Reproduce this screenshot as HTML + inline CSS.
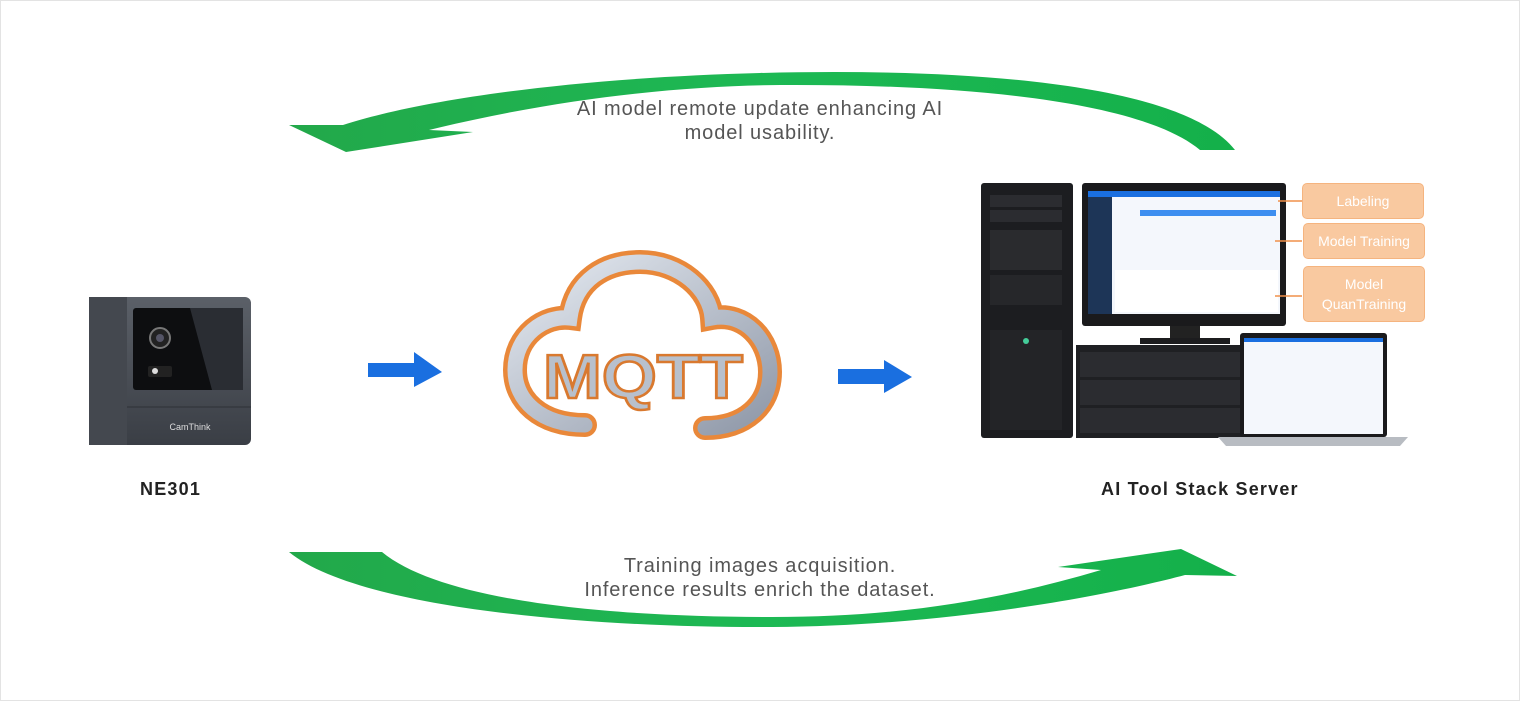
<!DOCTYPE html>
<html><head><meta charset="utf-8"><style>
html,body{margin:0;padding:0;background:#fff;}
body{width:1520px;height:701px;overflow:hidden;position:relative;font-family:"Liberation Sans",sans-serif;}
.frame{position:absolute;left:0;top:0;width:1518px;height:699px;border:1px solid #e3e3e3;}
.t{position:absolute;color:#555;font-size:20px;letter-spacing:0.9px;text-align:center;line-height:24px;}
.lab{position:absolute;color:#222;font-size:18px;font-weight:bold;letter-spacing:1.2px;}
.tag{position:absolute;background:#f9c9a0;border:1px solid #f5b47f;border-radius:5px;color:#fff;font-size:14px;text-align:center;display:flex;align-items:center;justify-content:center;line-height:20px;}
</style></head><body>
<div class="frame"></div>
<svg width="1520" height="701" style="position:absolute;left:0;top:0">
<defs>
<linearGradient id="g" x1="0" x2="1"><stop offset="0" stop-color="#22a84a"/><stop offset="0.5" stop-color="#1db954"/><stop offset="1" stop-color="#14b04a"/></linearGradient>
<linearGradient id="cam" x1="0" y1="0" x2="0" y2="1"><stop offset="0" stop-color="#5b6068"/><stop offset="1" stop-color="#3a3e45"/></linearGradient>
<linearGradient id="sil" x1="0" y1="0" x2="1" y2="1"><stop offset="0" stop-color="#e6ebf2"/><stop offset="1" stop-color="#8f98a8"/></linearGradient>
</defs>
<path d="M1235,150 C1180,80 950,68 760,73 C570,78 420,100 343,125 L289,125 L346,152 L473,132 L429,130 C560,98 680,86 780,85 C960,84 1140,100 1200,150 Z" fill="url(#g)"/>
<path d="M289,552 C360,610 600,628 772,627 C950,626 1110,595 1185,575 L1237,576 L1181,549 L1058,567 L1101,570 C1000,600 900,617 772,617 C600,617 440,600 382,552 Z" fill="url(#g)"/>
<path d="M368,363 L414,363 L414,352 L442,372 L414,387 L414,377 L368,377 Z" fill="#1a6fe0"/>
<path d="M838,369 L884,369 L884,360 L912,377 L884,393 L884,384 L838,384 Z" fill="#1a6fe0"/>
<rect x="89" y="297" width="162" height="148" rx="6" fill="url(#cam)"/>
<rect x="89" y="297" width="38" height="148" fill="#44484f"/>
<rect x="133" y="308" width="110" height="82" rx="3" fill="#0d0e10"/>
<path d="M190,308 L243,308 L243,390 L212,390 Z" fill="#2a2d33"/>
<circle cx="160" cy="338" r="10" fill="#222" stroke="#777" stroke-width="2"/>
<circle cx="160" cy="338" r="4" fill="#556"/>
<rect x="148" y="366" width="24" height="11" rx="2" fill="#222"/><circle cx="155" cy="371" r="3" fill="#ddd"/>
<line x1="127" y1="407" x2="251" y2="407" stroke="#2d3036"/>
<text x="190" y="430" font-size="9" fill="#ddd" text-anchor="middle" font-family="Liberation Sans">CamThink</text>
<g fill="none" stroke-linecap="round">
<path d="M585,425 C540,425 515,400 515,370 C515,335 545,315 570,318 C575,280 605,262 640,262 C680,262 710,290 712,318 C745,312 770,340 770,372 C770,405 745,428 705,428" stroke="#e9883a" stroke-width="24"/>
<path d="M585,425 C540,425 515,400 515,370 C515,335 545,315 570,318 C575,280 605,262 640,262 C680,262 710,290 712,318 C745,312 770,340 770,372 C770,405 745,428 705,428" stroke="url(#sil)" stroke-width="15"/>
</g>
<text x="643" y="398" font-size="62" font-weight="bold" text-anchor="middle" fill="#b8c0cc" stroke="#d9792f" stroke-width="2.5" font-family="Liberation Sans" textLength="200" lengthAdjust="spacingAndGlyphs">MQTT</text>
<rect x="981" y="183" width="92" height="255" rx="3" fill="#1c1d20"/>
<rect x="990" y="195" width="72" height="12" fill="#2b2c30"/><rect x="990" y="210" width="72" height="12" fill="#2b2c30"/>
<rect x="990" y="230" width="72" height="40" fill="#2a2b2e"/><rect x="990" y="275" width="72" height="30" fill="#26272a"/>
<rect x="990" y="330" width="72" height="100" fill="#232427"/>
<circle cx="1026" cy="341" r="3" fill="#4c9"/>
<rect x="1082" y="183" width="204" height="143" rx="3" fill="#1a1a1c"/>
<rect x="1088" y="191" width="192" height="123" fill="#f4f7fc"/>
<rect x="1088" y="191" width="192" height="6" fill="#1a6fe0"/>
<rect x="1088" y="197" width="24" height="117" fill="#1d3557"/>
<rect x="1140" y="210" width="136" height="6" fill="#3d8ef0"/>
<rect x="1115" y="270" width="163" height="42" fill="#fff"/>
<rect x="1170" y="326" width="30" height="12" fill="#222"/><rect x="1140" y="338" width="90" height="6" fill="#1c1c1e"/>
<rect x="1076" y="345" width="170" height="93" fill="#1f2023"/>
<rect x="1080" y="352" width="160" height="25" fill="#2b2c30"/><rect x="1080" y="380" width="160" height="25" fill="#2b2c30"/><rect x="1080" y="408" width="160" height="25" fill="#2b2c30"/>
<rect x="1240" y="333" width="147" height="104" rx="3" fill="#1a1a1c"/>
<rect x="1244" y="338" width="139" height="96" fill="#f4f7fc"/>
<rect x="1244" y="338" width="139" height="4" fill="#1a6fe0"/>
<path d="M1218,437 L1408,437 L1400,446 L1226,446 Z" fill="#b8bcc2"/>
<g stroke="#f0904a" stroke-width="1.5"><line x1="1278" y1="201" x2="1302" y2="201"/><line x1="1275" y1="241" x2="1302" y2="241"/><line x1="1275" y1="296" x2="1302" y2="296"/></g>
</svg>
<div class="tag" style="left:1302px;top:183px;width:120px;height:34px;">Labeling</div>
<div class="tag" style="left:1303px;top:223px;width:120px;height:34px;">Model Training</div>
<div class="tag" style="left:1303px;top:266px;width:120px;height:54px;">Model<br>QuanTraining</div>
<div class="t" style="left:510px;top:97px;width:500px;">AI model remote update enhancing AI<br>model usability.</div>
<div class="t" style="left:490px;top:554px;width:540px;">Training images acquisition.<br>Inference results enrich the dataset.</div>
<div class="lab" style="left:140px;top:479px;">NE301</div>
<div class="lab" style="left:1101px;top:479px;">AI Tool Stack Server</div>
</body></html>
